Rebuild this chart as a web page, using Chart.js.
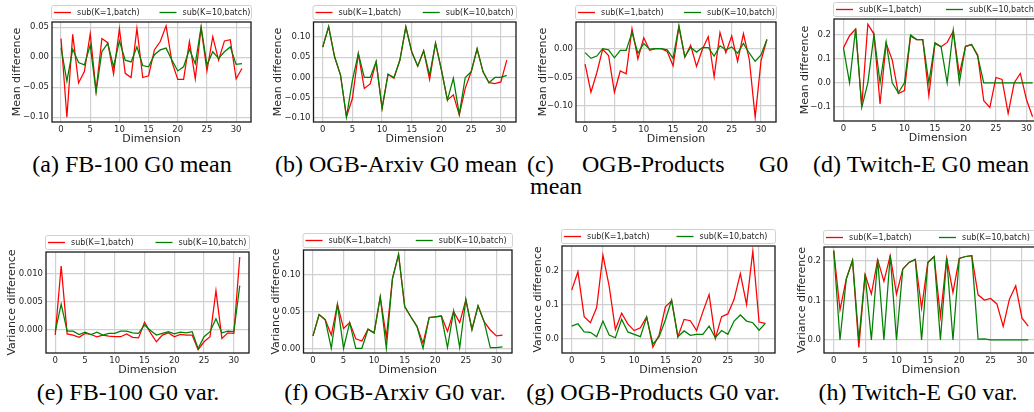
<!DOCTYPE html>
<html><head><meta charset="utf-8">
<script src="https://cdn.jsdelivr.net/npm/chart.js@4.4.0/dist/chart.umd.min.js"></script>
<style>
html,body{margin:0;padding:0;background:#fff;overflow:hidden;width:1034px;height:412px;position:relative}
canvas{position:absolute}
.cap{position:absolute;font-family:'Liberation Serif','Times New Roman',serif;font-size:24px;line-height:24px;color:#000;white-space:nowrap}
.c{text-align:center;width:400px}
</style></head><body>
<script>
// ---------- data ----------
const dims = [0,1,2,3,4,5,6,7,8,9,10,11,12,13,14,15,16,17,18,19,20,21,22,23,24,25,26,27,28,29,30,31];
const xTickValues = [0,5,10,15,20,25,30];
const seriesNames = ['sub(K=1,batch)','sub(K=10,batch)'];

const fbMeanK1  = [0.031,-0.100,0.038,-0.043,-0.024,0.039,-0.056,0.031,0.024,-0.028,0.047,-0.027,-0.034,0.048,-0.034,-0.031,0.012,0.026,0.052,-0.008,-0.037,-0.037,0.026,-0.036,0.049,-0.023,0.034,-0.005,0.027,0.029,-0.036,-0.019];
const fbMeanK10 = [0.016,-0.040,0.013,-0.009,-0.013,0.020,-0.058,0.009,0.023,-0.016,0.027,-0.005,-0.008,0.017,-0.014,-0.016,0.004,0.012,0.015,-0.005,-0.023,-0.016,0.013,-0.011,0.050,-0.013,0.009,-0.002,0.009,0.017,-0.012,-0.011];

const arxivMeanK1  = [0.075,0.125,0.051,0.006,-0.097,-0.052,0.059,-0.027,-0.016,0.039,-0.076,0.008,-0.002,0.043,0.125,0.063,0.028,0.066,-0.005,0.085,0.018,-0.056,-0.043,-0.093,-0.027,0.014,0.071,0.014,-0.013,-0.015,-0.011,0.043];
const arxivMeanK10 = [0.075,0.126,0.051,0.006,-0.098,-0.007,0.059,0.000,0.000,0.039,-0.076,0.008,0.000,0.043,0.125,0.063,0.028,0.066,0.006,0.085,0.018,-0.056,-0.002,-0.091,0.000,0.014,0.071,0.014,-0.013,0.000,0.000,0.005];

const productsMeanK1  = [-0.027,-0.076,-0.042,-0.001,-0.012,-0.076,-0.039,-0.044,0.035,-0.018,0.019,-0.003,0.000,0.000,-0.005,-0.030,0.038,-0.015,0.006,-0.031,-0.001,0.021,-0.049,0.028,-0.007,0.022,-0.022,0.026,-0.019,-0.120,-0.021,0.016];
const productsMeanK10 = [-0.007,-0.017,-0.013,0.000,-0.002,-0.016,-0.003,-0.003,0.028,-0.008,0.009,-0.001,0.000,0.000,-0.002,-0.017,0.040,-0.014,0.002,-0.006,0.002,0.002,-0.013,0.005,-0.002,0.003,-0.008,0.009,-0.008,-0.022,-0.011,0.016];

const twitchMeanK1  = [0.146,0.197,0.225,-0.098,0.245,0.204,-0.089,0.165,0.095,-0.045,-0.033,0.195,0.181,0.181,-0.054,0.165,0.151,0.169,0.216,0.036,0.151,0.160,0.116,-0.075,-0.103,0.022,0.014,-0.128,0.000,0.039,-0.070,-0.142];
const twitchMeanK10 = [0.146,0.000,0.227,-0.103,0.000,0.200,0.000,0.171,0.000,-0.042,0.000,0.200,0.181,0.181,0.000,0.167,0.151,0.000,0.220,0.000,0.153,0.160,0.112,0.000,0.000,0.000,0.000,0.000,0.000,0.000,0.000,0.000];

const fbVarK1  = [-0.0009,0.0114,-0.0007,-0.0009,-0.0013,-0.0006,-0.0008,-0.0012,-0.0009,-0.0011,-0.0012,-0.0012,-0.0007,-0.0013,-0.0014,0.0014,-0.0005,-0.0021,-0.0009,-0.0005,-0.0012,-0.0008,-0.0009,-0.0009,-0.0035,-0.0021,-0.0012,0.0070,-0.0015,-0.0005,-0.0006,0.0130];
const fbVarK10 = [-0.0003,0.0046,-0.0002,-0.0002,-0.0008,-0.0004,-0.0008,-0.0004,-0.0009,-0.0006,-0.0006,-0.0002,-0.0002,-0.0005,-0.0006,0.0009,-0.0001,-0.0009,-0.0006,-0.0003,-0.0007,-0.0004,-0.0005,-0.0003,-0.0033,-0.0012,-0.0003,0.0020,-0.0005,-0.0002,-0.0003,0.0079];

const arxivVarK1  = [0.017,0.046,0.039,0.018,0.060,0.027,0.035,0.013,0.010,0.026,0.021,0.070,0.015,0.095,0.128,0.057,0.043,0.030,0.007,0.042,0.043,0.044,0.023,0.050,0.035,0.066,0.026,0.058,0.036,0.025,0.017,0.018];
const arxivVarK10 = [0.017,0.046,0.039,0.000,0.060,0.000,0.035,0.000,0.000,0.026,0.021,0.070,0.000,0.095,0.128,0.057,0.043,0.030,0.000,0.042,0.043,0.044,0.001,0.051,0.001,0.067,0.025,0.058,0.036,0.001,0.001,0.002];

const productsVarK1  = [0.143,0.197,0.065,0.047,0.092,0.246,0.155,0.027,0.075,0.043,0.024,0.032,0.065,-0.025,0.011,0.094,0.112,0.006,0.057,0.053,0.024,0.079,0.130,0.001,0.065,0.073,0.116,0.192,0.101,0.258,0.049,0.045];
const productsVarK10 = [0.037,0.044,0.020,0.019,0.006,0.052,0.011,0.003,0.057,0.020,0.013,0.006,0.063,-0.016,0.006,0.055,0.114,0.006,0.023,0.010,0.013,0.013,0.037,0.003,0.024,0.013,0.052,0.070,0.052,0.047,0.025,0.045];

const twitchVarK1  = [0.226,0.076,0.154,0.201,-0.019,0.165,0.116,0.203,0.148,0.213,0.116,0.179,0.196,0.203,0.080,0.196,0.211,0.059,0.207,0.120,0.206,0.211,0.213,0.114,0.101,0.105,0.091,0.034,0.103,0.137,0.055,0.035];
const twitchVarK10 = [0.226,0.000,0.154,0.201,0.000,0.167,0.000,0.204,0.000,0.214,0.000,0.179,0.196,0.204,0.000,0.196,0.211,0.000,0.207,0.000,0.206,0.211,0.213,0.002,0.003,0.000,0.000,0.000,0.000,0.000,0.000,0.000];

const yTicksFbMean       = [-0.10,-0.05,0.00,0.05];
const yTicksArxivMean    = [-0.10,-0.05,0.00,0.05,0.10];
const yTicksProductsMean = [-0.10,-0.05,0.00];
const yTicksTwitchMean   = [-0.1,0.0,0.1,0.2];
const yTicksFbVar        = [0.000,0.005,0.010];
const yTicksArxivVar     = [0.00,0.05,0.10];
const yTicksProductsVar  = [0.0,0.1,0.2];
const yTicksTwitchVar    = [0.0,0.1,0.2];

// ---------- layout / style ----------
const RED = '#ff0000', GREEN = '#008000';
const TXT = '#262626';
const FONT = "'DejaVu Sans'";

const panels = [
  {k1:fbMeanK1, k10:fbMeanK10, yt:yTicksFbMean, dec:2, ymin:-0.108, ymax:0.0585, ylab:'Mean difference', row:0, L:52, R:251, T:22, B:122, ytc:16.7},
  {k1:arxivMeanK1, k10:arxivMeanK10, yt:yTicksArxivMean, dec:2, ymin:-0.110, ymax:0.137, ylab:'Mean difference', row:0, L:313.5, R:516, T:22, B:122, ytc:278},
  {k1:productsMeanK1, k10:productsMeanK10, yt:yTicksProductsMean, dec:2, ymin:-0.128, ymax:0.0465, ylab:'Mean difference', row:0, L:576, R:776, T:22, B:122, ytc:543},
  {k1:twitchMeanK1, k10:twitchMeanK10, yt:yTicksTwitchMean, dec:1, ymin:-0.160, ymax:0.267, ylab:'Mean difference', row:0, L:834, R:1042, T:19, B:121, ytc:805},
  {k1:fbVarK1, k10:fbVarK10, yt:yTicksFbVar, dec:3, ymin:-0.0041, ymax:0.0139, ylab:'Variance difference', row:1, L:46, R:249, T:252, B:353, ytc:12},
  {k1:arxivVarK1, k10:arxivVarK10, yt:yTicksArxivVar, dec:2, ymin:-0.0064, ymax:0.134, ylab:'Variance difference', row:1, L:303.5, R:512, T:250, B:353, ytc:276.5},
  {k1:productsVarK1, k10:productsVarK10, yt:yTicksProductsVar, dec:1, ymin:-0.042, ymax:0.273, ylab:'Variance difference', row:1, L:562, R:775, T:246, B:353, ytc:538},
  {k1:twitchVarK1, k10:twitchVarK10, yt:yTicksTwitchVar, dec:1, ymin:-0.033, ymax:0.235, ylab:'Variance difference', row:1, L:824, R:1038, T:247, B:353, ytc:802}
];

function fmt(v, dec){
  const s = Math.abs(v).toFixed(dec);
  return (v < -1e-12 ? '\u2212' : '') + s;
}

function rrect(ctx, x, y, w, h, r){
  ctx.beginPath();
  ctx.moveTo(x+r, y);
  ctx.lineTo(x+w-r, y); ctx.quadraticCurveTo(x+w, y, x+w, y+r);
  ctx.lineTo(x+w, y+h-r); ctx.quadraticCurveTo(x+w, y+h, x+w-r, y+h);
  ctx.lineTo(x+r, y+h); ctx.quadraticCurveTo(x, y+h, x, y+h-r);
  ctx.lineTo(x, y+r); ctx.quadraticCurveTo(x, y, x+r, y);
  ctx.closePath();
}

const framePlugin = {
  id: 'frameLegend',
  afterDraw(chart){
    const ctx = chart.ctx, a = chart.chartArea;
    ctx.save();
    ctx.strokeStyle = '#1a1a1a';
    ctx.lineWidth = 1.3;
    ctx.strokeRect(a.left, a.top, a.right - a.left, a.bottom - a.top);
    // legend box
    const x0 = a.left - 0.5, x1 = a.right + 0.5, y0 = a.top - 16.5, y1 = a.top - 2.5;
    rrect(ctx, x0, y0, x1 - x0, y1 - y0, 2);
    ctx.fillStyle = 'rgba(255,255,255,0.9)';
    ctx.fill();
    ctx.strokeStyle = '#cccccc';
    ctx.lineWidth = 0.9;
    ctx.stroke();
    const cy = (y0 + y1) / 2;
    const cols = [x0 + 2.5, x0 + (x1 - x0) / 2 + 8];
    const colors = [RED, GREEN];
    ctx.font = '8px ' + FONT;
    ctx.textBaseline = 'middle';
    ctx.textAlign = 'left';
    for (let i = 0; i < 2; i++){
      ctx.strokeStyle = colors[i];
      ctx.lineWidth = 1.3;
      ctx.beginPath();
      ctx.moveTo(cols[i], cy); ctx.lineTo(cols[i] + 17, cy);
      ctx.stroke();
      ctx.fillStyle = TXT;
      ctx.fillText(seriesNames[i], cols[i] + 23, cy + 0.5);
    }
    ctx.restore();
  }
};

panels.forEach(p => {
  const rowTop = p.row === 0 ? 0 : 212;
  const rowBottom = p.row === 0 ? 148 : 378;
  const cx = Math.round(p.ytc - 9);
  const pl = p.ytc - 6.6 - cx;
  const cw = Math.ceil(p.R + 4 - cx);
  const ch = rowBottom - rowTop;
  const pt = p.T - rowTop;
  const pr = cw - (p.R - cx);
  const xh = 24;
  const pb = ch - (p.B - rowTop) - xh;
  const yw = (p.L - cx) - pl;

  const cv = document.createElement('canvas');
  cv.width = cw; cv.height = ch;
  cv.style.left = cx + 'px'; cv.style.top = rowTop + 'px';
  cv.style.width = cw + 'px'; cv.style.height = ch + 'px';
  document.body.appendChild(cv);

  new Chart(cv.getContext('2d'), {
    type: 'line',
    data: {
      datasets: [
        {label: seriesNames[0], data: dims.map((d, i) => ({x: d, y: p.k1[i]})), borderColor: RED, backgroundColor: RED, order: 1},
        {label: seriesNames[1], data: dims.map((d, i) => ({x: d, y: p.k10[i]})), borderColor: GREEN, backgroundColor: GREEN, order: 0}
      ]
    },
    options: {
      responsive: false, animation: false, devicePixelRatio: 1,
      layout: {padding: {left: pl, top: pt, right: pr, bottom: pb}},
      plugins: {legend: {display: false}, tooltip: {enabled: false}},
      elements: {point: {radius: 0}, line: {tension: 0, borderWidth: 1.25, fill: false}},
      scales: {
        x: {
          type: 'linear', min: -1.55, max: 32.55,
          afterBuildTicks: s => { s.ticks = xTickValues.map(v => ({value: v})); },
          afterFit: s => { s.height = xh; },
          grid: {color: '#d0d0d0', lineWidth: 1.2, drawTicks: false},
          border: {display: false},
          ticks: {padding: 3, color: TXT, font: {family: FONT, size: 8.5}, maxRotation: 0, autoSkip: false, callback: v => String(v)},
          title: {display: true, text: 'Dimension', color: TXT, font: {family: FONT, size: 11}, padding: 0}
        },
        y: {
          type: 'linear', min: p.ymin, max: p.ymax,
          afterBuildTicks: s => { s.ticks = p.yt.map(v => ({value: v})); },
          afterFit: s => { s.width = yw; },
          grid: {color: '#d0d0d0', lineWidth: 1.2, drawTicks: false},
          border: {display: false},
          ticks: {padding: 3, color: TXT, font: {family: FONT, size: 8.5}, autoSkip: false, callback: v => fmt(v, p.dec)},
          title: {display: true, text: p.ylab, color: TXT, font: {family: FONT, size: 11}, padding: 0}
        }
      }
    },
    plugins: [framePlugin]
  });
});
</script>
<div class="cap c" style="left:-68px;top:152px">(a) FB-100 G0 mean</div>
<div class="cap c" style="left:196px;top:152px">(b) OGB-Arxiv G0 mean</div>
<div class="cap" style="left:527px;top:152px">(c)</div>
<div class="cap" style="left:582px;top:152px">OGB-Products</div>
<div class="cap" style="left:759px;top:152px">G0</div>
<div class="cap" style="left:530px;top:174px">mean</div>
<div class="cap c" style="left:721px;top:152px">(d) Twitch-E G0 mean</div>
<div class="cap c" style="left:-72px;top:380px">(e) FB-100 G0 var.</div>
<div class="cap c" style="left:195px;top:380px">(f) OGB-Arxiv G0 var.</div>
<div class="cap c" style="left:453px;top:380px">(g) OGB-Products G0 var.</div>
<div class="cap c" style="left:718px;top:380px">(h) Twitch-E G0 var.</div>
</body></html>
